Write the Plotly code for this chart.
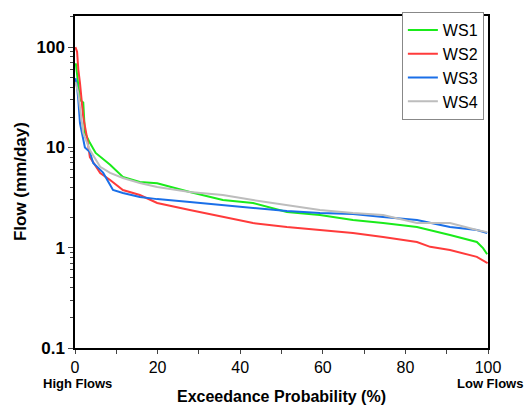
import plotly.graph_objects as go

# Exceedance probability (%) and flows (mm/day)
ws1_p = [0.2, 0.8, 1.2, 2.0, 2.4, 3.6, 5.0, 8.5, 11.6, 15.7, 19.9, 27.8, 35.8, 43.1, 51.3, 59.3, 67.3, 74.6, 82.8, 90.8, 97.3, 98.8, 99.8]
ws1_v = [69, 40, 29.7, 28, 14, 11.1, 8.8, 6.7, 5.07, 4.52, 4.4, 3.59, 2.99, 2.79, 2.27, 2.12, 1.89, 1.76, 1.61, 1.34, 1.14, 0.99, 0.86]

ws2_p = [0.1, 0.5, 0.8, 1.2, 2.0, 2.9, 3.6, 6.1, 8.5, 11.6, 15.7, 19.9, 27.8, 35.8, 43.1, 51.3, 59.3, 67.3, 74.6, 82.8, 86.0, 90.8, 97.3, 98.8, 99.9]
ws2_v = [100, 90, 60, 44, 20, 12.6, 8.0, 5.56, 4.73, 3.76, 3.35, 2.79, 2.38, 2.02, 1.76, 1.61, 1.50, 1.40, 1.28, 1.14, 1.02, 0.95, 0.81, 0.75, 0.70]

ws3_p = [0.1, 0.5, 0.8, 1.2, 2.4, 3.6, 4.4, 6.8, 9.2, 11.6, 15.7, 19.9, 27.8, 35.8, 43.1, 51.3, 59.3, 67.3, 74.6, 82.8, 90.8, 97.3, 99.8]
ws3_v = [49, 40, 30, 17.5, 10, 9.0, 7.0, 5.6, 3.76, 3.51, 3.2, 3.05, 2.86, 2.67, 2.49, 2.32, 2.22, 2.17, 2.02, 1.89, 1.61, 1.50, 1.40]

ws4_p = [0.1, 0.5, 0.8, 1.2, 2.0, 3.6, 6.1, 8.5, 11.6, 15.7, 19.9, 27.8, 35.8, 43.1, 51.3, 59.3, 67.3, 74.6, 82.8, 90.8, 97.3, 99.8]
ws4_v = [45, 38, 35, 25, 13.9, 9.4, 6.4, 5.56, 4.96, 4.42, 4.03, 3.59, 3.36, 2.99, 2.67, 2.38, 2.22, 2.12, 1.76, 1.76, 1.50, 1.43]

series = [
    ("WS1", ws1_p, ws1_v, "#1aeb1a"),
    ("WS2", ws2_p, ws2_v, "#ff3b3b"),
    ("WS3", ws3_p, ws3_v, "#1a6fe8"),
    ("WS4", ws4_p, ws4_v, "#bdbdbd"),
]

fig = go.Figure()
for name, p, v, c in series:
    fig.add_trace(go.Scatter(x=p, y=v, mode="lines", name=name,
                             line=dict(color=c, width=2)))

font = "Liberation Sans, Arial, sans-serif"
fig.update_layout(
    width=527, height=406,
    margin=dict(l=75, r=39, t=16, b=58),
    paper_bgcolor="white", plot_bgcolor="white",
    font=dict(family=font, color="black"),
    showlegend=True,
    legend=dict(x=0.99, y=1.012, xanchor="right", yanchor="top",
                bordercolor="#888888", borderwidth=1, bgcolor="white",
                font=dict(size=16, family=font), tracegroupgap=0,
                itemwidth=30),
    xaxis=dict(range=[0, 100], tickvals=[0, 20, 40, 60, 80, 100],
               ticks="outside", ticklen=4, tickwidth=1.2,
               showline=True, linecolor="black", linewidth=1.5, mirror=True,
               showgrid=False, zeroline=False,
               tickfont=dict(size=16, family=font),
               minor=dict(tickvals=[10, 30, 50, 70, 90], ticks="outside", ticklen=4, tickwidth=1.2)),
    yaxis=dict(type="log", range=[-1, 2.31], dtick=1,
               ticks="outside", ticklen=5, tickwidth=1.2,
               showline=True, linecolor="black", linewidth=1.5, mirror=True,
               showgrid=False, zeroline=False,
               tickfont=dict(size=17, family=font, weight="bold"),
               minor=dict(ticks="outside", ticklen=3, tickwidth=1, dtick="D1", showgrid=False)),
)

fig.add_annotation(text="High Flows", x=0.007, y=-0.108, xref="paper", yref="paper",
                   showarrow=False, font=dict(size=13, family=font, weight="bold"),
                   xanchor="center", yanchor="middle")
fig.add_annotation(text="Low Flows", x=1.005, y=-0.108, xref="paper", yref="paper",
                   showarrow=False, font=dict(size=13, family=font, weight="bold"),
                   xanchor="center", yanchor="middle")
fig.add_annotation(text="Exceedance Probability (%)", x=0.501, y=-0.145, xref="paper", yref="paper",
                   showarrow=False, font=dict(size=16, family=font, weight="bold"),
                   xanchor="center", yanchor="middle")
fig.add_annotation(text="Flow (mm/day)", x=-0.133, y=0.5, xref="paper", yref="paper",
                   showarrow=False, textangle=-90, font=dict(size=17, family=font, weight="bold"),
                   xanchor="center", yanchor="middle")

fig.write_html("out.html", config={"displayModeBar": False},
               post_script="document.body.style.margin='0';document.body.style.padding='0';")
